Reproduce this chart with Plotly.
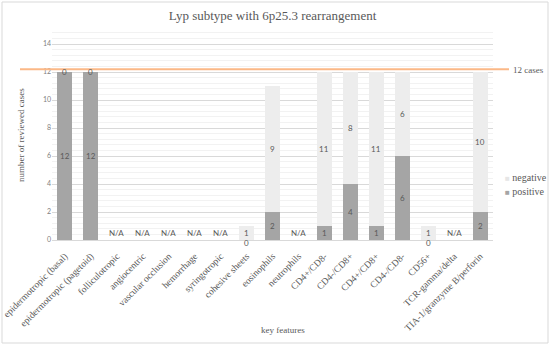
import plotly.graph_objects as go

categories = ["epidermotropic (basal)", "epidermotropic (pagetoid)", "folliculotropic",
              "angiocentric", "vascular occlusion", "hemorrhage", "syringotropic",
              "cohesive sheets", "eosinophils", "neutrophils", "CD4+/CD8-", "CD4-/CD8+",
              "CD4+/CD8+", "CD4-/CD8-", "CD56+", "TCR-gamma/delta", "TIA-1/granzyme B/perforin"]
positive = [12, 12, None, None, None, None, None, 0, 2, None, 1, 4, 1, 6, 0, None, 2]
negative = [0, 0, None, None, None, None, None, 1, 9, None, 11, 8, 11, 6, 1, None, 10]
reference_cases = 12.2
reference_label = "12 cases"

POS_C = "#A5A5A5"
NEG_C = "#EDEDED"
TXT = "#595959"
SERIF = "Liberation Serif"
SANS = "Lato"

fig = go.Figure()
fig.add_trace(go.Bar(x=categories, y=positive, name="positive", marker_color=POS_C,
                     marker_line_width=0, showlegend=False, hoverinfo="skip"))
fig.add_trace(go.Bar(x=categories, y=negative, name="negative", marker_color=NEG_C,
                     marker_line_width=0, showlegend=False, hoverinfo="skip"))

ann = []
lab_font = dict(family=SANS, size=8, color=TXT)
for c, p, n in zip(categories, positive, negative):
    if p is None:
        ann.append(dict(x=c, y=0.5, text="N/A", showarrow=False, font=lab_font))
        continue
    ann.append(dict(x=c, y=p / 2 if p > 0 else 0, yshift=0 if p > 0 else -3,
                    text=str(p), showarrow=False, font=lab_font))
    ann.append(dict(x=c, y=p + n / 2 if n > 0 else p, text=str(n), showarrow=False,
                    font=lab_font))

# reference line
fig.add_shape(type="line", xref="paper", yref="y", x0=(20 - 52) / 441, x1=(509 - 52) / 441,
              y0=reference_cases, y1=reference_cases, line=dict(color="#FBB887", width=2))
ann.append(dict(xref="paper", yref="y", x=(511 - 52) / 441, y=reference_cases, xanchor="left",
                yanchor="middle", yshift=-1,
                text=reference_label, showarrow=False, font=dict(family=SERIF, size=9, color=TXT)))

# legend as annotations
ann.append(dict(xref="paper", yref="paper", x=(503 - 52) / 441, y=(240 - 177) / 210,
                xanchor="left", yanchor="middle", showarrow=False,
                text=f"<span style='color:#E6E6E6;font-size:8px'>■</span> negative",
                font=dict(family=SERIF, size=10, color=TXT)))
ann.append(dict(xref="paper", yref="paper", x=(503 - 52) / 441, y=(240 - 191) / 210,
                xanchor="left", yanchor="middle", showarrow=False,
                text=f"<span style='color:{POS_C};font-size:8px'>■</span> positive",
                font=dict(family=SERIF, size=10, color=TXT)))

# axis titles
ann.append(dict(xref="paper", yref="paper", x=(21 - 52) / 441, y=(240 - 135) / 210,
                xanchor="center", yanchor="middle", textangle=-90,
                text="number of reviewed cases", showarrow=False,
                font=dict(family=SERIF, size=9, color=TXT)))
ann.append(dict(xref="paper", yref="paper", x=(283 - 52) / 441, y=(240 - 330) / 210,
                xanchor="center", yanchor="middle",
                text="key features", showarrow=False,
                font=dict(family=SERIF, size=9, color=TXT)))

# outer border
fig.add_shape(type="rect", xref="paper", yref="paper",
              x0=(2 - 52) / 441, x1=(548 - 52) / 441, y0=(240 - 343) / 210, y1=(240 - 2) / 210,
              line=dict(color="#D9D9D9", width=1), layer="below")

fig.update_layout(
    width=550, height=345,
    margin=dict(l=52, r=57, t=30, b=105),
    paper_bgcolor="white", plot_bgcolor="white",
    barmode="stack", bargap=0.42,
    hovermode=False,
    title=dict(text="Lyp subtype with 6p25.3 rearrangement", x=0.5, xref="paper",
               y=1 - 15 / 345, yanchor="middle",
               font=dict(family=SERIF, size=13, color=TXT)),
    xaxis=dict(tickangle=-45, tickfont=dict(family=SERIF, size=9.5, color=TXT),
               showgrid=False, showline=True, linecolor="#D9D9D9", ticks="",
               ticklabelstandoff=6, automargin=False),
    yaxis=dict(range=[0, 15], dtick=2, tick0=0, showgrid=True, gridcolor="#D9D9D9",
               gridwidth=1, zeroline=False, automargin=False,
               tickfont=dict(family=SANS, size=7, color="#7F7F7F"),
               minor=dict(dtick=0.4, tick0=0, showgrid=True, gridcolor="#F2F2F2")),
    annotations=ann,
    showlegend=False,
)

fig.write_html("out.html", config={"displayModeBar": False},
               post_script="document.body.style.margin='0';")
